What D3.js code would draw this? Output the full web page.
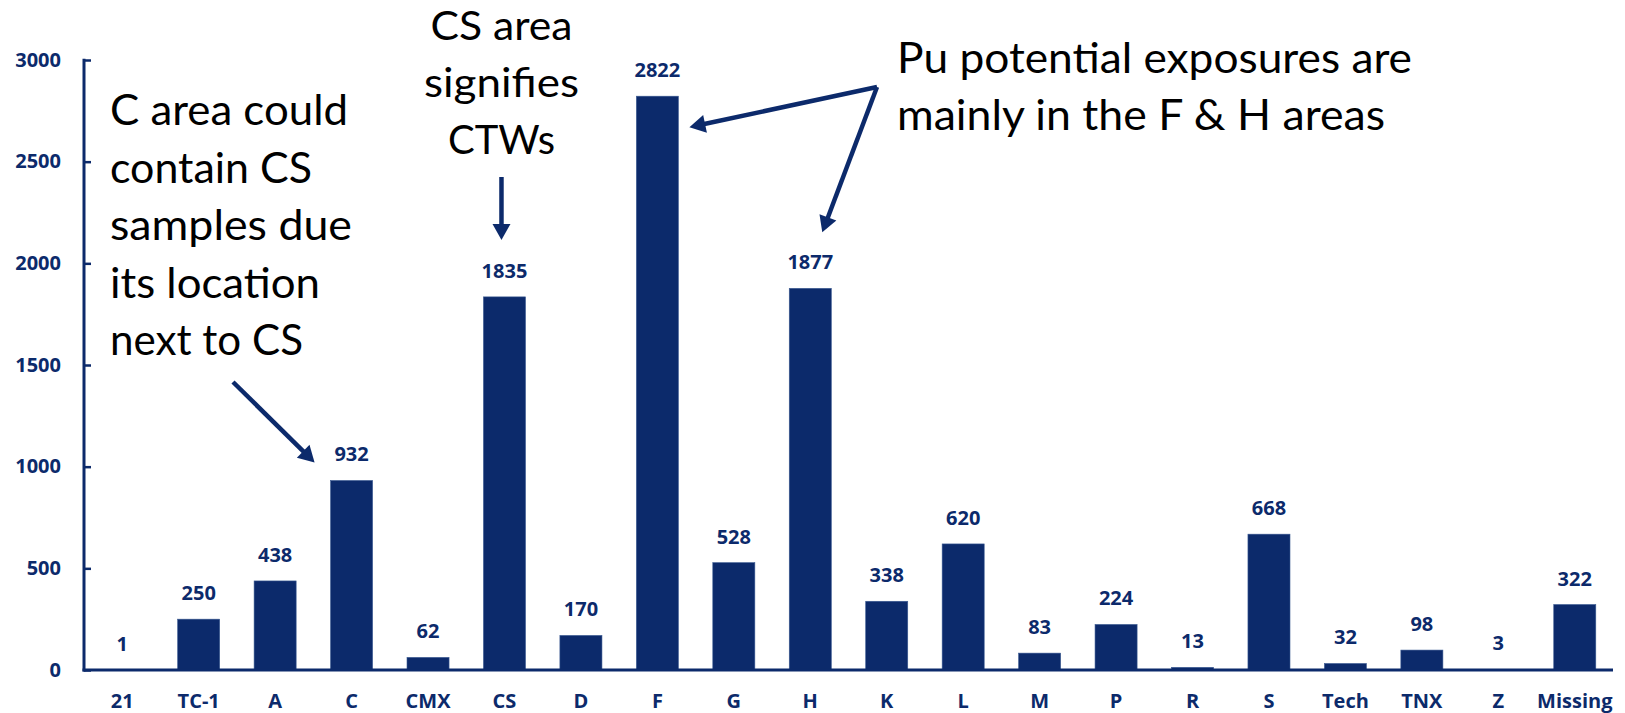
<!DOCTYPE html>
<html>
<head>
<meta charset="utf-8">
<script src="https://cdn.jsdelivr.net/npm/d3@7"></script>
<style>
  html, body { margin: 0; padding: 0; background: #ffffff; }
  svg { display: block; }
</style>
</head>
<body>
<svg id="chart" width="1625" height="713"></svg>
<script>
// ---- data ----
const categories = ["21","TC-1","A","C","CMX","CS","D","F","G","H","K","L","M","P","R","S","Tech","TNX","Z","Missing"];
const counts = [1,250,438,932,62,1835,170,2822,528,1877,338,620,83,224,13,668,32,98,3,322];
const yTicks = [0,500,1000,1500,2000,2500,3000];

const noteC = ["C area could","contain CS","samples due","its location","next to CS"];
const noteCS = ["CS area","signifies","CTWs"];
const notePu = ["Pu potential exposures are","mainly in the F & H areas"];

// ---- layout ----
const navy = "#0c2a6b";
const svg = d3.select("#chart");
const x0 = 84, x1 = 1613, yBase = 670, yTop = 60;

const x = d3.scaleBand().domain(categories).range([x0, x1]).paddingInner(0.45).paddingOuter(0.225);
const y = d3.scaleLinear().domain([0, 3000]).range([yBase, yTop]);
const bw = x.bandwidth();
const xc = c => x(c) + bw / 2;

// bars
svg.append("g").selectAll("rect").data(categories).join("rect")
  .attr("x", d => x(d))
  .attr("y", (d, i) => y(counts[i]))
  .attr("width", bw)
  .attr("height", (d, i) => yBase - y(counts[i]))
  .attr("fill", navy)
  .attr("stroke", "#3b5a92").attr("stroke-width", 0.6);

// value labels
svg.append("g").selectAll("text").data(categories).join("text")
  .attr("x", d => xc(d))
  .attr("y", (d, i) => y(counts[i]) - 19)
  .attr("text-anchor", "middle")
  .attr("font-family", "'Open Sans', sans-serif")
  .attr("font-weight", 700)
  .attr("font-size", 20)
  .attr("fill", navy)
  .text((d, i) => counts[i]);

// y axis
const yAxis = d3.axisRight(y).tickValues(yTicks).tickSize(7).tickFormat("");
const gy = svg.append("g").attr("transform", `translate(${x0},0)`).call(yAxis);
gy.select(".domain").remove();
gy.selectAll(".tick line").attr("stroke", navy).attr("stroke-width", 2.5);
svg.append("line").attr("x1", x0).attr("x2", x0).attr("y1", yTop - 1.2).attr("y2", yBase + 1.5)
  .attr("stroke", navy).attr("stroke-width", 3);

svg.append("g").selectAll("text").data(yTicks).join("text")
  .attr("x", 61).attr("y", d => y(d)).attr("dy", "0.33em")
  .attr("text-anchor", "end")
  .attr("font-family", "'Open Sans', sans-serif")
  .attr("font-weight", 700).attr("font-size", 20)
  .attr("fill", navy)
  .text(d => d);

// x axis
const xAxis = d3.axisBottom(x).tickSize(0).tickPadding(0);
const gx = svg.append("g").attr("transform", `translate(0,${yBase})`).call(xAxis);
gx.select(".domain").remove();
gx.selectAll(".tick text")
  .attr("y", 38).attr("dy", 0)
  .attr("font-family", "'Open Sans', sans-serif")
  .attr("font-weight", 700).attr("font-size", 20)
  .attr("fill", navy);
svg.append("line").attr("x1", x0 - 1.5).attr("x2", x1).attr("y1", yBase).attr("y2", yBase)
  .attr("stroke", navy).attr("stroke-width", 3);

// ---- annotations ----
function note(lines, px, baselines, widths, anchor, size) {
  const g = svg.append("g");
  lines.forEach((t, i) => {
    g.append("text")
      .attr("x", px).attr("y", baselines[i])
      .attr("text-anchor", anchor)
      .attr("font-family", "Lato, sans-serif")
      .attr("font-size", size)
      .attr("fill", "#000")
      .attr("textLength", widths[i])
      .attr("lengthAdjust", "spacingAndGlyphs")
      .text(t);
  });
}
note(noteC, 110, [125, 182.5, 240, 297.5, 355], [238, 202, 242, 210, 193], "start", 42);
note(noteCS, xc("CS") - 3, [40, 97, 154], [142, 155, 107], "middle", 40);
note(notePu, 897, [73, 130], [515, 488], "start", 42);

function arrow(sx, sy, tx, ty) {
  const head = 16, half = 9;
  const dx = tx - sx, dy = ty - sy, L = Math.hypot(dx, dy);
  const ux = dx / L, uy = dy / L;
  const bx = tx - ux * head, by = ty - uy * head;
  svg.append("line").attr("x1", sx).attr("y1", sy).attr("x2", bx + ux * 2).attr("y2", by + uy * 2)
    .attr("stroke", navy).attr("stroke-width", 4.5);
  svg.append("path")
    .attr("d", `M${tx},${ty}L${bx - uy * half},${by + ux * half}L${bx + uy * half},${by - ux * half}Z`)
    .attr("fill", navy);
}
// C area arrow
arrow(233, 382, xc("C") - 37, y(932) - 18);
// CS arrow
arrow(xc("CS") - 3, 177, xc("CS") - 3, y(1835) - 57);
// Pu arrows
arrow(877, 87, x("F") + bw + 11, y(2822) + 31);
arrow(877, 87, xc("H") + 12, y(1877) - 56);
</script>
</body>
</html>
